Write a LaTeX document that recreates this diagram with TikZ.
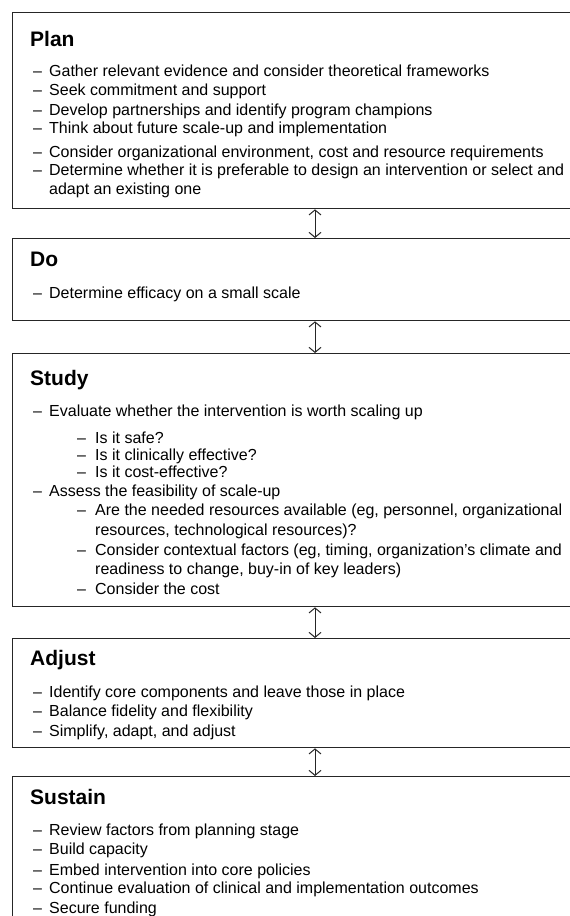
\documentclass[tikz,border=0pt]{standalone}
\usepackage{fontspec}
\setmainfont{Liberation Sans}
\usetikzlibrary{arrows.meta}
\tikzset{
  box/.style={draw=black!85, line width=1.3pt, rectangle, anchor=north west, inner sep=0pt, minimum width=600pt},
  ttl/.style={anchor=base west, inner sep=0pt, font=\fontsize{21}{21}\selectfont\bfseries},
  txt/.style={anchor=base west, inner sep=0pt, font=\fontsize{16}{16}\selectfont},
  link/.style={line width=1pt, draw=black!85, {Straight Barb[length=5pt,width=12pt]}-{Straight Barb[length=5pt,width=12pt]}}
}
\newcommand\dA{\makebox[16pt][l]{–}}
\newcommand\dB{\makebox[18pt][l]{–}}
\begin{document}
\begin{tikzpicture}[x=1pt,y=-1pt]
\useasboundingbox (0,0) rectangle (570,916);
% boxes
\node[box, minimum height=196pt] (plan) at (12,12) {};
\node[box, minimum height=82pt] (do) at (12,238) {};
\node[box, minimum height=253pt] (study) at (12,353) {};
\node[box, minimum height=109pt] (adjust) at (12,638) {};
\node[box, minimum height=170pt] (sustain) at (12,776) {};
\coordinate (ax) at (315,0);
\draw[link] (plan.south -| ax) -- (do.north -| ax);
\draw[link] (do.south -| ax) -- (study.north -| ax);
\draw[link] (study.south -| ax) -- (adjust.north -| ax);
\draw[link] (adjust.south -| ax) -- (sustain.north -| ax);
% Plan
\node[ttl] (pt) at (30,46) {Plan};
\node[txt] (p1) at (33,76) {\dA Gather relevant evidence and consider theoretical frameworks};
\node[txt] (p2) at (33,95) {\dA Seek commitment and support};
\node[txt] (p3) at (33,115) {\dA Develop partnerships and identify program champions};
\node[txt] (p4) at (33,133) {\dA Think about future scale-up and implementation};
\node[txt] (p5) at (33,157) {\dA Consider organizational environment, cost and resource requirements};
\node[txt] (p6) at (33,175) {\dA Determine whether it is preferable to design an intervention or select and};
\node[txt] (p7) at (49,194) {adapt an existing one};
% Do
\node[ttl] (dt) at (30,266) {Do};
\node[txt] (d1) at (33,298) {\dA Determine efficacy on a small scale};
% Study
\node[ttl] (st) at (30,385) {Study};
\node[txt] (s1) at (33,416) {\dA Evaluate whether the intervention is worth scaling up};
\node[txt] (s2) at (77,443) {\dB Is it safe?};
\node[txt] (s3) at (77,460) {\dB Is it clinically effective?};
\node[txt] (s4) at (77,477) {\dB Is it cost-effective?};
\node[txt] (s5) at (33,496) {\dA Assess the feasibility of scale-up};
\node[txt] (s6) at (77,515) {\dB Are the needed resources available (eg, personnel, organizational};
\node[txt] (s7) at (95,535) {resources, technological resources)?};
\node[txt] (s8) at (77,555) {\dB Consider contextual factors (eg, timing, organization’s climate and};
\node[txt] (s9) at (95,574) {readiness to change, buy-in of key leaders)};
\node[txt] (s10) at (77,594) {\dB Consider the cost};
% Adjust
\node[ttl] (at) at (30,665) {Adjust};
\node[txt] (a1) at (33,697) {\dA Identify core components and leave those in place};
\node[txt] (a2) at (33,716) {\dA Balance fidelity and flexibility};
\node[txt] (a3) at (33,736) {\dA Simplify, adapt, and adjust};
% Sustain
\node[ttl] (sut) at (30,804) {Sustain};
\node[txt] (u1) at (33,835) {\dA Review factors from planning stage};
\node[txt] (u2) at (33,854) {\dA Build capacity};
\node[txt] (u3) at (33,875) {\dA Embed intervention into core policies};
\node[txt] (u4) at (33,893) {\dA Continue evaluation of clinical and implementation outcomes};
\node[txt] (u5) at (33,913) {\dA Secure funding};
\end{tikzpicture}
\end{document}
